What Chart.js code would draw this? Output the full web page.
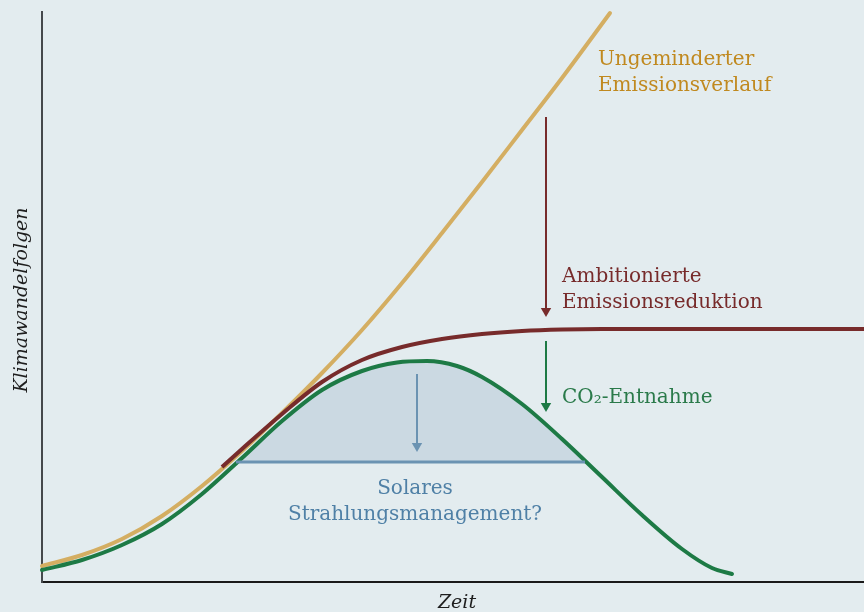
<!DOCTYPE html>
<html lang="de">
<head>
<meta charset="utf-8">
<title>Klimawandelfolgen</title>
<script src="https://cdn.jsdelivr.net/npm/chart.js@4/dist/chart.umd.min.js"></script>
<style>
  html, body { margin: 0; padding: 0; background: #e3ecef; }
  #wrap { width: 864px; height: 612px; }
</style>
</head>
<body>
<div id="wrap"><canvas id="chart" width="864" height="612"></canvas></div>
<script>
// --- Data (x = Zeit, y = Klimawandelfolgen, arbitrary units) ---
const unabatedX = [0, 40, 80, 120, 160, 200, 240, 280, 320, 360, 400, 440, 480, 520, 568];
const unabatedY = [16, 27, 43, 66, 96, 131, 169, 209, 252, 299, 349, 400, 452, 504, 569];

const ambitiousX = [180, 200, 240, 280, 320, 360, 400, 440, 480, 520, 560, 822];
const ambitiousY = [115, 133, 168, 200, 222, 235, 243, 248, 251, 252.5, 253, 253];

const removalX = [0, 40, 80, 120, 160, 200, 240, 280, 320, 355, 385, 415, 440, 480, 520, 560, 600, 640, 670, 690];
const removalY = [12, 22, 37, 58, 88, 124, 161, 192, 211, 219.5, 221, 216, 205, 178, 143, 105, 67, 33, 14, 8];

// Solar radiation management level
const srmLevel = 120;
const srmX = [194, 543];

// arrows: x, start y, tip y
const arrowRed = [504, 465, 265];
const arrowGreen = [504, 241, 170];
const arrowBlue = [375, 208, 130];

const xMax = 822, yMax = 570;

const toPts = (xs, ys) => xs.map((x, i) => ({ x: x, y: ys[i] }));

const TAN = '#d4ae62';
const RED = '#772b2b';
const GREEN = '#1d7a45';
const BLUE = '#6b93b2';
const FILL = '#cbd9e2';

const HEAD = 6;
function arrow(a, color, order) {
  return {
    data: [{ x: a[0], y: a[1] }, { x: a[0], y: a[2] + HEAD }],
    borderColor: color, borderWidth: 2,
    pointRadius: [0, HEAD], pointHoverRadius: [0, HEAD],
    pointStyle: 'triangle', pointRotation: [0, 180],
    pointBackgroundColor: color, pointBorderWidth: 0,
    fill: false, tension: 0, order: order, clip: false
  };
}

// text annotations
const SERIF = '"DejaVu Serif", "Liberation Serif", serif';
const labels = [
  { text: 'Ungeminderter', x: 556, y: 517, color: '#c0891f', align: 'left' },
  { text: 'Emissionsverlauf', x: 556, y: 491, color: '#c0891f', align: 'left' },
  { text: 'Ambitionierte', x: 520, y: 300, color: '#772b2b', align: 'left' },
  { text: 'Emissionsreduktion', x: 520, y: 274, color: '#772b2b', align: 'left' },
  { text: 'CO\u2082-Entnahme', x: 520, y: 179, color: '#2a7a4a', align: 'left' },
  { text: 'Solares', x: 373, y: 88, color: '#4f80a6', align: 'center' },
  { text: 'Strahlungsmanagement?', x: 373, y: 62, color: '#4f80a6', align: 'center' }
];

const textPlugin = {
  id: 'texts',
  afterDatasetsDraw(chart) {
    const ctx = chart.ctx;
    const sx = chart.scales.x, sy = chart.scales.y;
    ctx.save();
    ctx.textBaseline = 'alphabetic';
    ctx.font = '20px ' + SERIF;
    labels.forEach(l => {
      ctx.fillStyle = l.color;
      ctx.textAlign = l.align;
      ctx.fillText(l.text, sx.getPixelForValue(l.x), sy.getPixelForValue(l.y));
    });
    // axis titles
    ctx.fillStyle = '#1e1e1e';
    ctx.font = 'italic 19px ' + SERIF;
    ctx.textAlign = 'center';
    ctx.fillText('Zeit', 457, 608);
    ctx.translate(27, 300);
    ctx.rotate(-Math.PI / 2);
    ctx.fillText('Klimawandelfolgen', 0, 0);
    ctx.restore();
  }
};

const curve = { pointRadius: 0, cubicInterpolationMode: 'monotone', borderWidth: 4, clip: false };

new Chart(document.getElementById('chart'), {
  type: 'line',
  data: {
    datasets: [
      { data: toPts(srmX, [srmLevel, srmLevel]), borderColor: BLUE, borderWidth: 3, pointRadius: 0, tension: 0, fill: false, order: 0, clip: false },
      arrow(arrowBlue, BLUE, 1),
      arrow(arrowGreen, GREEN, 1),
      arrow(arrowRed, RED, 1),
      {
        ...curve, data: toPts(removalX, removalY), borderColor: GREEN, borderCapStyle: 'round',
        fill: { target: { value: srmLevel }, above: FILL, below: 'rgba(0,0,0,0)' },
        order: 2
      },
      { ...curve, data: toPts(ambitiousX, ambitiousY), borderColor: RED, fill: false, order: 3 },
      { ...curve, data: toPts(unabatedX, unabatedY), borderColor: TAN, borderCapStyle: 'round', fill: false, order: 4 }
    ]
  },
  options: {
    responsive: false,
    animation: false,
    events: [],
    layout: { autoPadding: false, padding: { left: 42, right: 0, top: 12, bottom: 30 } },
    plugins: { legend: { display: false }, tooltip: { enabled: false } },
    scales: {
      x: {
        type: 'linear', min: 0, max: xMax,
        grid: { display: false, drawTicks: false },
        ticks: { display: false },
        border: { display: true, color: '#1a1a1a', width: 2 },
        afterFit: s => { s.height = 0; }
      },
      y: {
        type: 'linear', min: 0, max: yMax,
        grid: { display: false, drawTicks: false },
        ticks: { display: false },
        border: { display: true, color: '#45494c', width: 2 },
        afterFit: s => { s.width = 0; }
      }
    }
  },
  plugins: [textPlugin]
});
</script>
</body>
</html>
